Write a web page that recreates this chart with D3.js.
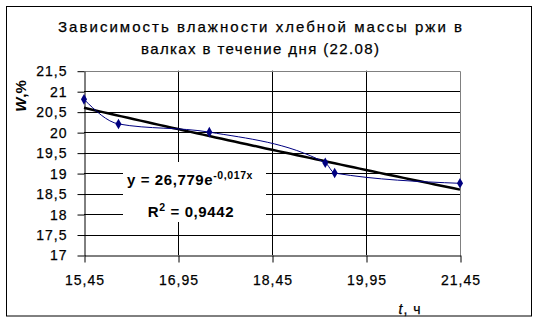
<!DOCTYPE html>
<html>
<head>
<meta charset="utf-8">
<script src="https://cdn.jsdelivr.net/npm/d3@7"></script>
<style>
  body { margin: 0; background: #fff; }
  svg text { font-family: Arial, "Liberation Sans", sans-serif; }
</style>
</head>
<body>
<div id="chart"></div>
<script>
// measured values (time in hours, grain mass moisture in %)
var hours = [15.45, 16.0, 17.45, 19.3, 19.45, 21.45];
var moisture = [20.8, 20.2, 20.0, 19.25, 19.0, 18.75];
var xTicks = [15.45, 16.95, 18.45, 19.95, 21.45];
var yTicks = [17, 17.5, 18, 18.5, 19, 19.5, 20, 20.5, 21, 21.5];
var titleLines = ['Зависимость влажности хлебной массы ржи в', 'валках в течение дня (22.08)'];
// exponential trend shown on the chart: y = a * e^(k x)
var trendA = 26.779, trendK = -0.017, trendR2 = 0.9442;

var width = 537, height = 320;
var pLeft = 84, pRight = 460, pTop = 70.7, pBottom = 255;

var fmt = function (d) { return String(d).replace('.', ','); };

var x = d3.scaleLinear().domain([15.45, 21.45]).range([pLeft, pRight]);
var y = d3.scaleLinear().domain([17, 21.5]).range([pBottom, pTop]);

var svg = d3.select('#chart').append('svg')
  .attr('width', width)
  .attr('height', height);

svg.append('rect')
  .attr('x', 6.5).attr('y', 6.5)
  .attr('width', 525).attr('height', 309.5)
  .attr('fill', '#fff').attr('stroke', '#000');

// title
svg.selectAll('.title').data(titleLines).enter().append('text')
  .attr('x', 260)
  .attr('y', function (d, i) { return 31.5 + i * 22; })
  .attr('text-anchor', 'middle')
  .attr('font-size', 15)
  .attr('stroke', '#000').attr('stroke-width', 0.25)
  .attr('textLength', function (d, i) { return i == 0 ? 404 : 238; })
  .attr('lengthAdjust', 'spacing')
  .text(function (d) { return d; });

// grid
svg.append('g').selectAll('line').data(yTicks.slice(1, -1)).enter().append('line')
  .attr('x1', pLeft).attr('x2', pRight)
  .attr('y1', function (d) { return Math.round(y(d)) + 0.5; })
  .attr('y2', function (d) { return Math.round(y(d)) + 0.5; })
  .attr('stroke', '#000');
svg.append('g').selectAll('line').data(xTicks.slice(1, -1)).enter().append('line')
  .attr('y1', pTop).attr('y2', pBottom)
  .attr('x1', function (d) { return Math.round(x(d)) + 0.5; })
  .attr('x2', function (d) { return Math.round(x(d)) + 0.5; })
  .attr('stroke', '#000');

// plot area border (gray top/right)
svg.append('path')
  .attr('d', 'M' + (pLeft + 0.5) + ',' + (Math.round(pTop) + 0.5) + 'H' + (pRight + 0.5) + 'V' + (pBottom + 0.5))
  .attr('fill', 'none').attr('stroke', '#808080');

// axes
var xAxis = svg.append('g')
  .attr('transform', 'translate(0.5,' + (pBottom + 0.5) + ')')
  .call(d3.axisBottom(x).tickValues(xTicks).tickFormat(fmt).tickSize(7).tickPadding(13).tickSizeOuter(0));
var yAxis = svg.append('g')
  .attr('transform', 'translate(' + (pLeft + 0.5) + ',0.5)')
  .call(d3.axisLeft(y).tickValues(yTicks).tickFormat(fmt).tickSize(7).tickPadding(10).tickSizeOuter(0));
[xAxis, yAxis].forEach(function (g) {
  g.select('.domain').attr('stroke', '#000');
  g.selectAll('.tick line').attr('stroke', '#000');
  g.selectAll('.tick text')
    .attr('fill', '#000')
    .attr('stroke', '#000').attr('stroke-width', 0.25)
    .attr('font-size', 14)
    .attr('font-family', 'Arial, "Liberation Sans", sans-serif')
    .attr('letter-spacing', 1);
});

// axis titles
var yt = svg.append('text')
  .attr('transform', 'translate(26,96) rotate(-90)')
  .attr('text-anchor', 'middle')
  .attr('font-size', 15)
  .attr('font-weight', 'bold');
yt.append('tspan').attr('font-style', 'italic').text('W');
yt.append('tspan').text(',%');

var xt = svg.append('text')
  .attr('x', 410).attr('y', 314)
  .attr('text-anchor', 'middle')
  .attr('font-size', 14)
  .attr('stroke', '#000').attr('stroke-width', 0.25)
  .attr('letter-spacing', 1);
xt.append('tspan').attr('font-style', 'italic').text('t');
xt.append('tspan').text(', ч');

// equation label
svg.append('rect')
  .attr('x', 123).attr('y', 162)
  .attr('width', 143).attr('height', 60)
  .attr('fill', '#fff');
var eq = svg.append('text')
  .attr('x', 190).attr('y', 184.5)
  .attr('text-anchor', 'middle')
  .attr('font-size', 15)
  .attr('letter-spacing', 0.6)
  .attr('font-weight', 'bold');
eq.append('tspan').text('y = ' + fmt(trendA) + 'e');
eq.append('tspan').attr('dy', -6).attr('font-size', 10.5).text(fmt(trendK) + 'x');
var r2 = svg.append('text')
  .attr('x', 191).attr('y', 216.5)
  .attr('text-anchor', 'middle')
  .attr('font-size', 15)
  .attr('letter-spacing', 0.6)
  .attr('font-weight', 'bold');
r2.append('tspan').text('R');
r2.append('tspan').attr('dy', -6).attr('font-size', 10.5).text('2');
r2.append('tspan').attr('dy', 6).text(' = ' + fmt(trendR2));

// trend line
var trendX = d3.range(15.45, 21.46, 0.1);
svg.append('path')
  .datum(trendX)
  .attr('fill', 'none')
  .attr('stroke', '#000')
  .attr('stroke-width', 2.5)
  .attr('d', d3.line()
    .x(function (d) { return x(d); })
    .y(function (d) { return y(trendA * Math.exp(trendK * d)); }));

// data series
var pts = hours.map(function (h, i) { return [h, moisture[i]]; });
svg.append('path')
  .datum(pts)
  .attr('fill', 'none')
  .attr('stroke', '#000080')
  .attr('stroke-width', 1)
  .attr('d', d3.line()
    .curve(d3.curveMonotoneX)
    .x(function (d) { return x(d[0]); })
    .y(function (d) { return y(d[1]); }));

svg.append('g').selectAll('path').data(pts).enter().append('path')
  .attr('transform', function (d) { return 'translate(' + x(d[0]) + ',' + y(d[1]) + ')'; })
  .attr('d', d3.symbol(d3.symbolDiamond, 32))
  .attr('fill', '#000080');
</script>
</body>
</html>
